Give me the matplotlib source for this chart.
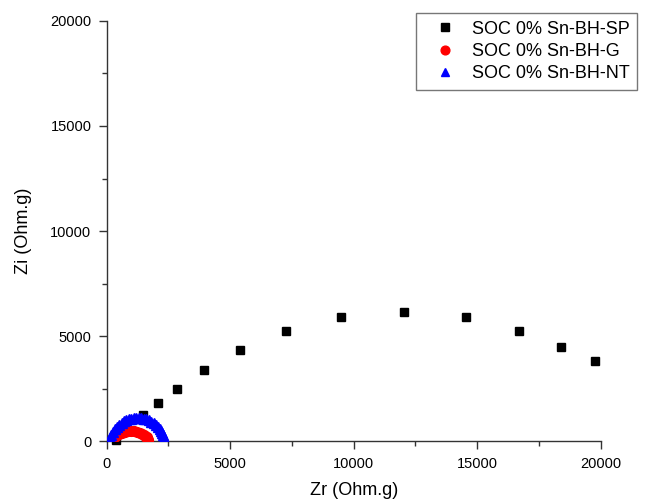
import matplotlib
matplotlib.use("Agg")
import matplotlib.pyplot as plt
from matplotlib.ticker import MultipleLocator

plt.rcParams['font.family'] = ['Liberation Sans', 'DejaVu Sans']

# SOC 0% Sn-BH-SP (black squares)
sp_zr = [360, 1470, 2090, 2840, 3940, 5400, 7260, 9500, 12050, 14540, 16690, 18390, 19770]
sp_zi = [70, 1270, 1820, 2510, 3380, 4330, 5250, 5920, 6170, 5920, 5270, 4510, 3810]

# SOC 0% Sn-BH-G (red circles)
g_zr = [260, 380, 500, 620, 740, 860, 980, 1100, 1220, 1330, 1430, 1510, 1570, 1620, 1650, 1670, 1680]
g_zi = [110, 260, 360, 420, 460, 480, 485, 475, 450, 410, 360, 300, 250, 190, 140, 90, 50]

# SOC 0% Sn-BH-NT (blue triangles)
nt_zr = [120, 170, 240, 320, 410, 500, 600, 700, 800, 900, 1000, 1100, 1200, 1300,
         1400, 1500, 1600, 1700, 1800, 1900, 1990, 2070, 2140, 2200, 2250, 2290, 2320]
nt_zi = [180, 330, 470, 600, 710, 800, 880, 950, 1010, 1050, 1080, 1100, 1110, 1110,
         1100, 1080, 1050, 1000, 940, 870, 790, 700, 600, 500, 400, 290, 180]

labels = ['SOC 0% Sn-BH-SP', 'SOC 0% Sn-BH-G', 'SOC 0% Sn-BH-NT']

fig = plt.figure(figsize=(6.47, 5.03), dpi=100)
ax = fig.add_axes([0.1649, 0.1223, 0.7635, 0.8365])

h1, = ax.plot(sp_zr, sp_zi, 's', color='black', ms=6, mec='black', label=labels[0], clip_on=False, zorder=3)
h2, = ax.plot(g_zr, g_zi, 'o', color='red', ms=7, mec='red', label=labels[1], zorder=4)
h3, = ax.plot(nt_zr, nt_zi, '^', color='blue', ms=7, mec='blue', label=labels[2], zorder=5)

ax.set_xlim(0, 20000)
ax.set_ylim(0, 20000)
ax.xaxis.set_major_locator(MultipleLocator(5000))
ax.xaxis.set_minor_locator(MultipleLocator(2500))
ax.yaxis.set_major_locator(MultipleLocator(5000))
ax.yaxis.set_minor_locator(MultipleLocator(2500))

for s in ['top', 'right']:
    ax.spines[s].set_visible(False)
for s in ['left', 'bottom']:
    ax.spines[s].set_linewidth(1.0)
    ax.spines[s].set_color('#333333')

ax.tick_params(which='major', direction='out', length=6, width=1, color='#333333',
               labelsize=10.5, pad=5)
ax.tick_params(which='minor', direction='out', length=3.5, width=1, color='#333333')

ax.set_xlabel('Zr (Ohm.g)', fontsize=13, labelpad=8)
ax.set_ylabel('Zi (Ohm.g)', fontsize=13, labelpad=13.5)

leg = fig.legend(handles=[h1, h2, h3], loc='upper right', bbox_to_anchor=(0.984, 0.9735),
                 fontsize=13, handlelength=2.4, handletextpad=0.27, borderpad=0.4,
                 labelspacing=0.3, borderaxespad=0, fancybox=False, framealpha=1,
                 edgecolor='#777777', markerscale=0.9)
leg.get_frame().set_linewidth(1.0)

fig.savefig('out.png', dpi=100)
